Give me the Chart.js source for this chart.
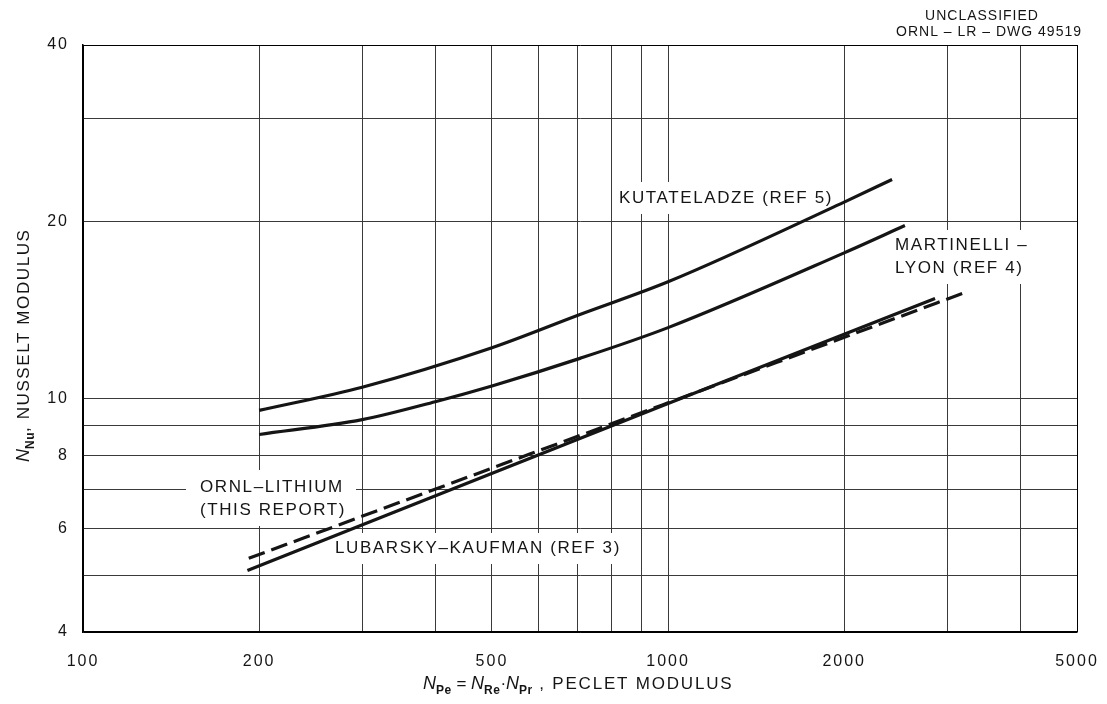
<!DOCTYPE html>
<html>
<head>
<meta charset="utf-8">
<script src="https://cdn.jsdelivr.net/npm/chart.js@4.4.0/dist/chart.umd.min.js"></script>
<style>
  html, body { margin: 0; padding: 0; background: #fff; }
  #wrap { width: 1107px; height: 704px; }
</style>
</head>
<body>
<div id="wrap"><canvas id="chart" width="1107" height="704"></canvas></div>
<script>
// grid and tick values (log-log paper)
const xGrid = [100, 200, 300, 400, 500, 600, 700, 800, 900, 1000, 2000, 3000, 4000, 5000];
const xLabels = [100, 200, 500, 1000, 2000, 5000];
const yGrid = [4, 5, 6, 7, 8, 9, 10, 20, 30, 40];
const yLabels = [4, 6, 8, 10, 20, 40];

// curves (Peclet -> Nusselt)
const kutPe = [200, 300, 500, 707, 1000, 2000, 2415];
const kutNu = [9.54, 10.45, 12.2, 13.9, 15.8, 21.6, 23.6];

const marPe = [200, 300, 400, 500, 707, 1000, 2000, 2540];
const marNu = [8.68, 9.2, 9.87, 10.5, 11.7, 13.2, 17.7, 19.7];

const lubPe = [191, 1000, 2860];
const lubNu = [5.09, 9.8, 14.8];

const ornlPe = [192, 1000, 3245];
const ornlNu = [5.34, 9.83, 15.2];

const FONT = "'Liberation Sans', Arial, sans-serif";
const INK = "#151515";

const pts = (xs, ys) => xs.map((x, i) => ({ x: x, y: ys[i] }));

function curve(label, xs, ys, dash) {
    return {
        label: label,
        data: pts(xs, ys),
        borderColor: INK,
        borderWidth: 3.2,
        borderDash: dash || [],
        pointRadius: 0,
        cubicInterpolationMode: "monotone",
        fill: false
    };
}

// text labels inside the plot, with white boxes that break the grid
const notes = [
    { lines: ["KUTATELADZE (REF 5)"], x: 619, y: 198, box: [612, 182, 222, 32] },
    { lines: ["MARTINELLI \u2013", "LYON (REF 4)"], x: 895, y: 245, box: [888, 230, 140, 54] },
    { lines: ["ORNL\u2013LITHIUM", "(THIS REPORT)"], x: 200, y: 487, box: [186, 470, 170, 56] },
    { lines: ["LUBARSKY\u2013KAUFMAN (REF 3)"], x: 335, y: 548, box: [327, 533, 300, 31] }
];

const notesPlugin = {
    id: "notes",
    beforeDraw(chart) {
        chart.ctx.letterSpacing = "2px";
    },
    beforeDatasetsDraw(chart) {
        const ctx = chart.ctx;
        ctx.save();
        ctx.letterSpacing = "1.6px";
        ctx.font = "17px " + FONT;
        ctx.textBaseline = "middle";
        ctx.textAlign = "left";
        notes.forEach(n => {
            ctx.fillStyle = "#fff";
            ctx.fillRect(n.box[0], n.box[1], n.box[2], n.box[3]);
            ctx.fillStyle = INK;
            n.lines.forEach((t, i) => ctx.fillText(t, n.x, n.y + i * 23));
        });
        ctx.restore();
    },
    afterDraw(chart) {
        const ctx = chart.ctx;
        ctx.save();
        ctx.fillStyle = INK;
        ctx.textBaseline = "alphabetic";
        ctx.textAlign = "left";

        // drawing number, top right
        ctx.letterSpacing = "1px";
        ctx.font = "14px " + FONT;
        ctx.textAlign = "center";
        ctx.fillText("UNCLASSIFIED", 982, 20);
        ctx.textAlign = "right";
        ctx.fillText("ORNL \u2013 LR \u2013 DWG 49519", 1082, 36);
        ctx.textAlign = "left";

        // runs of text with italic N and subscripts
        function run(parts, x, y) {
            parts.forEach(p => {
                ctx.font = p.f;
                ctx.letterSpacing = p.ls || "0px";
                ctx.fillText(p.t, x, y + (p.dy || 0));
                x += ctx.measureText(p.t).width;
            });
        }
        const N = "italic 18px " + FONT;
        const SUB = "bold 12px " + FONT;
        const TXT = "17px " + FONT;

        run([
            { t: "N", f: N },
            { t: "Pe", f: SUB, dy: 5, ls: "0.5px" },
            { t: " = ", f: TXT },
            { t: "N", f: N },
            { t: "Re", f: SUB, dy: 5, ls: "0.5px" },
            { t: "\u00b7", f: TXT },
            { t: "N", f: N },
            { t: "Pr", f: SUB, dy: 5, ls: "0.5px" },
            { t: " , PECLET MODULUS", f: TXT, ls: "1.8px" }
        ], 423, 689);

        ctx.translate(29, 462);
        ctx.rotate(-Math.PI / 2);
        run([
            { t: "N", f: N },
            { t: "Nu", f: SUB, dy: 5, ls: "0.5px" },
            { t: ", NUSSELT MODULUS", f: TXT, ls: "1.6px" }
        ], 0, 0);
        ctx.restore();
    }
};

const edge = (vals) => (c) => {
    const v = c.tick && c.tick.value;
    return (v === vals[0] || v === vals[vals.length - 1]) ? "#000" : "#3a3a3a";
};

new Chart(document.getElementById("chart"), {
    type: "line",
    data: {
        datasets: [
            curve("Kutateladze (Ref 5)", kutPe, kutNu),
            curve("Martinelli-Lyon (Ref 4)", marPe, marNu),
            curve("Lubarsky-Kaufman (Ref 3)", lubPe, lubNu),
            curve("ORNL-Lithium (this report)", ornlPe, ornlNu, [17, 7])
        ]
    },
    options: {
        responsive: false,
        devicePixelRatio: 1,
        animation: false,
        layout: { padding: { top: 45, right: 30, left: 0, bottom: 0 } },
        plugins: {
            legend: { display: false },
            tooltip: { enabled: false },
            title: { display: false }
        },
        scales: {
            x: {
                type: "logarithmic",
                min: 100,
                max: 5000,
                afterBuildTicks: s => { s.ticks = xGrid.map(v => ({ value: v })); },
                afterFit: s => {
                    s.height = 72;
                    s.paddingLeft = 0;
                    s.paddingRight = 0;
                },
                ticks: {
                    autoSkip: false,
                    maxRotation: 0,
                    padding: 20,
                    color: INK,
                    font: { family: FONT, size: 16 },
                    callback: v => xLabels.includes(v) ? String(v) : ""
                },
                grid: { color: edge(xGrid), lineWidth: 1, drawTicks: false },
                border: { color: "#000", width: 1.5 }
            },
            y: {
                type: "logarithmic",
                min: 4,
                max: 40,
                afterBuildTicks: s => { s.ticks = yGrid.map(v => ({ value: v })); },
                afterFit: s => {
                    s.width = 83;
                    s.paddingTop = 0;
                    s.paddingBottom = 0;
                },
                ticks: {
                    autoSkip: false,
                    padding: 14,
                    color: INK,
                    font: { family: FONT, size: 16 },
                    callback: v => yLabels.includes(v) ? String(v) : ""
                },
                grid: { color: edge(yGrid), lineWidth: 1, drawTicks: false },
                border: { color: "#000", width: 1.5 }
            }
        }
    },
    plugins: [notesPlugin]
});
</script>
</body>
</html>
